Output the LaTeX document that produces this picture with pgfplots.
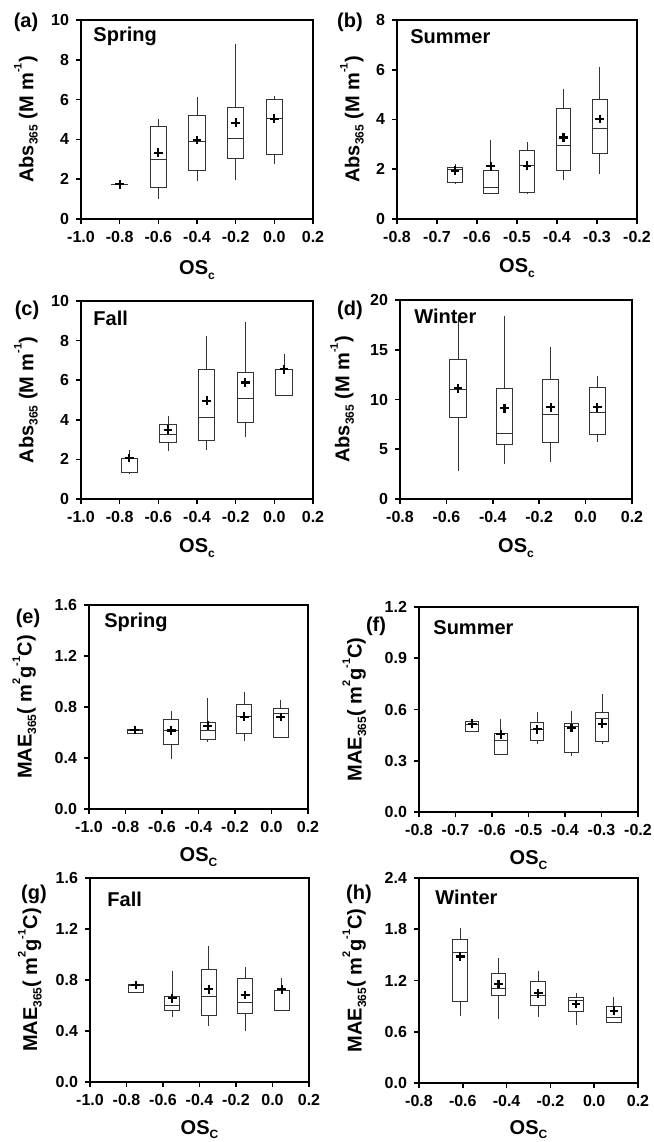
\documentclass[border=0pt]{standalone}
\usepackage{fontspec}
\setmainfont{Liberation Sans}[UprightFont={* Bold}, BoldFont={* Bold}]
\usepackage{pgfplots}
\pgfplotsset{compat=1.18}
\usepgfplotslibrary{statistics}
\newcommand\sups[1]{\raisebox{0.58em}{\fontsize{5.5}{6}\selectfont #1}}
\newcommand\subs[1]{\raisebox{-0.22em}{\fontsize{6}{6}\selectfont #1}}
\pgfplotsset{
  panel/.style={
    scale only axis, clip=false, enlargelimits=false, anchor=south west,
    axis line style={line width=1pt},
    every tick/.style={line width=0.8pt, black},
    major tick length=2.5pt,
    tick align=outside,
    xtick pos=lower, ytick pos=lower,
    ticklabel style={font=\fontsize{8}{9}\selectfont},
    label style={font=\fontsize{8}{10}\selectfont},
    every axis x label/.style={anchor=base},
    every axis y label/.style={rotate=90, anchor=base},
    boxplot/draw direction=y,
  },
  bp/.style={draw=black!80, line width=0.5pt, solid, mark=none},
  mn/.style={only marks, mark=+, mark size=2.2pt, mark options={line width=1.1pt, black, solid}, draw=black},
}
\tikzset{
  season/.style={anchor=west, inner sep=0pt, font=\fontsize{10}{12}\selectfont},
  plab/.style={font=\fontsize{10}{12}\selectfont, inner sep=0pt},
}
\begin{document}
\begin{tikzpicture}
\useasboundingbox (0,0) rectangle (327pt,571pt);
\node[plab] at (13pt,560pt) {(a)};
\node[plab] at (175pt,560pt) {(b)};
\node[plab] at (13.5pt,416pt) {(c)};
\node[plab] at (175pt,416pt) {(d)};
\node[plab] at (14pt,262pt) {(e)};
\node[plab] at (188pt,258pt) {(f)};
\node[plab] at (17pt,124pt) {(g)};
\node[plab] at (179.5pt,124pt) {(h)};

% (a)
\begin{axis}[panel, at={(40.5pt,461.5pt)}, width=116pt, height=99.5pt,
  xmin=-1, xmax=0.2, ymin=0, ymax=10,
  xtick={-1,-0.8,-0.6,-0.4,-0.2,0,0.2}, xticklabels={-1.0,-0.8,-0.6,-0.4,-0.2,0.0,0.2},
  ytick={0,2,4,6,8,10}, yticklabels={0,2,4,6,8,10},
  xlabel={OS\subs{c}}, ylabel={Abs\subs{365} (M m\sups{-1})},
  xlabel style={at={(axis description cs:0.5,0)}, yshift=-28pt},
  ylabel style={at={(axis description cs:-0.2055,0.5)}}]
\node[season] at (rel axis cs:0.052,0.92) {Spring};
\addplot[bp, boxplot prepared={draw position=-0.8, lower whisker=1.72, lower quartile=1.72, median=1.72, upper quartile=1.73, upper whisker=1.73, box extend=0.083, whisker extend=0}] coordinates {};
\addplot[bp, boxplot prepared={draw position=-0.6, lower whisker=1.0, lower quartile=1.59, median=3.0, upper quartile=4.64, upper whisker=5.03, box extend=0.083, whisker extend=0}] coordinates {};
\addplot[bp, boxplot prepared={draw position=-0.4, lower whisker=1.93, lower quartile=2.43, median=3.89, upper quartile=5.19, upper whisker=6.15, box extend=0.083, whisker extend=0}] coordinates {};
\addplot[bp, boxplot prepared={draw position=-0.2, lower whisker=1.96, lower quartile=3.02, median=4.05, upper quartile=5.59, upper whisker=8.79, box extend=0.083, whisker extend=0}] coordinates {};
\addplot[bp, boxplot prepared={draw position=0.0, lower whisker=2.76, lower quartile=3.25, median=5.03, upper quartile=5.98, upper whisker=6.18, box extend=0.083, whisker extend=0}] coordinates {};
\addplot[mn] coordinates {(-0.8,1.74) (-0.6,3.33) (-0.4,3.97) (-0.2,4.84) (0,5.03)};
\end{axis}

% (b)
\begin{axis}[panel, at={(198.5pt,461.5pt)}, width=120pt, height=99.5pt,
  xmin=-0.8, xmax=-0.2, ymin=0, ymax=8,
  xtick={-0.8,-0.7,-0.6,-0.5,-0.4,-0.3,-0.2}, xticklabels={-0.8,-0.7,-0.6,-0.5,-0.4,-0.3,-0.2},
  ytick={0,2,4,6,8}, yticklabels={0,2,4,6,8},
  xlabel={OS\subs{c}}, ylabel={Abs\subs{365} (M m\sups{-1})},
  xlabel style={at={(axis description cs:0.5,0)}, yshift=-27pt},
  ylabel style={at={(axis description cs:-0.157,0.5)}}]
\node[season] at (rel axis cs:0.054,0.915) {Summer};
\addplot[bp, boxplot prepared={draw position=-0.655, lower whisker=1.40, lower quartile=1.45, median=1.98, upper quartile=2.06, upper whisker=2.21, box extend=0.037, whisker extend=0}] coordinates {};
\addplot[bp, boxplot prepared={draw position=-0.566, lower whisker=1.0, lower quartile=1.03, median=1.26, upper quartile=1.94, upper whisker=3.18, box extend=0.037, whisker extend=0}] coordinates {};
\addplot[bp, boxplot prepared={draw position=-0.475, lower whisker=0.99, lower quartile=1.07, median=2.14, upper quartile=2.75, upper whisker=3.08, box extend=0.037, whisker extend=0}] coordinates {};
\addplot[bp, boxplot prepared={draw position=-0.384, lower whisker=1.57, lower quartile=1.94, median=2.94, upper quartile=4.45, upper whisker=5.21, box extend=0.037, whisker extend=0}] coordinates {};
\addplot[bp, boxplot prepared={draw position=-0.293, lower whisker=1.80, lower quartile=2.64, median=3.62, upper quartile=4.79, upper whisker=6.13, box extend=0.037, whisker extend=0}] coordinates {};
\addplot[mn] coordinates {(-0.655,1.94) (-0.566,2.12) (-0.475,2.14) (-0.384,3.28) (-0.293,4.02)};
\end{axis}

% (c)
\begin{axis}[panel, at={(40.5pt,321.5pt)}, width=116pt, height=99pt,
  xmin=-1, xmax=0.2, ymin=0, ymax=10,
  xtick={-1,-0.8,-0.6,-0.4,-0.2,0,0.2}, xticklabels={-1.0,-0.8,-0.6,-0.4,-0.2,0.0,0.2},
  ytick={0,2,4,6,8,10}, yticklabels={0,2,4,6,8,10},
  xlabel={OS\subs{c}}, ylabel={Abs\subs{365} (M m\sups{-1})},
  xlabel style={at={(axis description cs:0.5,0)}, yshift=-27pt},
  ylabel style={at={(axis description cs:-0.2055,0.5)}}]
\node[season] at (rel axis cs:0.052,0.914) {Fall};
\addplot[bp, boxplot prepared={draw position=-0.75, lower whisker=1.32, lower quartile=1.33, median=1.34, upper quartile=2.05, upper whisker=2.47, box extend=0.083, whisker extend=0}] coordinates {};
\addplot[bp, boxplot prepared={draw position=-0.55, lower whisker=2.40, lower quartile=2.87, median=3.28, upper quartile=3.76, upper whisker=4.17, box extend=0.083, whisker extend=0}] coordinates {};
\addplot[bp, boxplot prepared={draw position=-0.35, lower whisker=2.47, lower quartile=2.94, median=4.12, upper quartile=6.52, upper whisker=8.25, box extend=0.083, whisker extend=0}] coordinates {};
\addplot[bp, boxplot prepared={draw position=-0.15, lower whisker=3.13, lower quartile=3.87, median=5.06, upper quartile=6.39, upper whisker=8.92, box extend=0.083, whisker extend=0}] coordinates {};
\addplot[bp, boxplot prepared={draw position=0.05, lower whisker=5.23, lower quartile=5.23, median=6.55, upper quartile=6.56, upper whisker=7.31, box extend=0.083, whisker extend=0}] coordinates {};
\addplot[mn] coordinates {(-0.75,2.07) (-0.55,3.5) (-0.35,4.96) (-0.15,5.88) (0.05,6.55)};
\end{axis}

% (d)
\begin{axis}[panel, at={(200pt,321.5pt)}, width=116pt, height=99.5pt,
  xmin=-0.8, xmax=0.2, ymin=0, ymax=20,
  xtick={-0.8,-0.6,-0.4,-0.2,0,0.2}, xticklabels={-0.8,-0.6,-0.4,-0.2,0.0,0.2},
  ytick={0,5,10,15,20}, yticklabels={0,5,10,15,20},
  xlabel={OS\subs{c}}, ylabel={Abs\subs{365} (M m\sups{-1})},
  xlabel style={at={(axis description cs:0.5,0)}, yshift=-27pt},
  ylabel style={at={(axis description cs:-0.218,0.5)}}]
\addplot[bp, boxplot prepared={draw position=-0.55, lower whisker=2.78, lower quartile=8.23, median=11.04, upper quartile=13.98, upper whisker=18.1, box extend=0.07, whisker extend=0}] coordinates {};
\addplot[bp, boxplot prepared={draw position=-0.35, lower whisker=3.55, lower quartile=5.52, median=6.62, upper quartile=11.07, upper whisker=18.43, box extend=0.07, whisker extend=0}] coordinates {};
\addplot[bp, boxplot prepared={draw position=-0.15, lower whisker=3.71, lower quartile=5.69, median=8.53, upper quartile=11.97, upper whisker=15.32, box extend=0.07, whisker extend=0}] coordinates {};
\addplot[bp, boxplot prepared={draw position=0.05, lower whisker=5.72, lower quartile=6.52, median=8.70, upper quartile=11.24, upper whisker=12.37, box extend=0.07, whisker extend=0}] coordinates {};
\addplot[mn] coordinates {(-0.55,11.14) (-0.35,9.13) (-0.15,9.23) (0.05,9.23)};
\node[season] at (rel axis cs:0.06,0.92) {Winter};
\end{axis}

% (e)
\begin{axis}[panel, at={(44.5pt,166.5pt)}, width=109.5pt, height=102pt,
  xmin=-1, xmax=0.2, ymin=0, ymax=1.6,
  xtick={-1,-0.8,-0.6,-0.4,-0.2,0,0.2}, xticklabels={-1.0,-0.8,-0.6,-0.4,-0.2,0.0,0.2},
  ytick={0,0.4,0.8,1.2,1.6}, yticklabels={0.0,0.4,0.8,1.2,1.6},
  xlabel={OS\subs{C}}, ylabel={MAE\subs{365}( m\sups{2}g\sups{-1}C)},
  xlabel style={at={(axis description cs:0.5,0)}, yshift=-26.5pt},
  ylabel style={at={(axis description cs:-0.262,0.5)}}]
\node[season] at (rel axis cs:0.068,0.917) {Spring};
\addplot[bp, boxplot prepared={draw position=-0.75, lower whisker=0.595, lower quartile=0.595, median=0.615, upper quartile=0.625, upper whisker=0.64, box extend=0.082, whisker extend=0}] coordinates {};
\addplot[bp, boxplot prepared={draw position=-0.55, lower whisker=0.392, lower quartile=0.507, median=0.616, upper quartile=0.705, upper whisker=0.765, box extend=0.082, whisker extend=0}] coordinates {};
\addplot[bp, boxplot prepared={draw position=-0.35, lower whisker=0.522, lower quartile=0.548, median=0.616, upper quartile=0.681, upper whisker=0.869, box extend=0.082, whisker extend=0}] coordinates {};
\addplot[bp, boxplot prepared={draw position=-0.15, lower whisker=0.530, lower quartile=0.595, median=0.726, upper quartile=0.817, upper whisker=0.914, box extend=0.082, whisker extend=0}] coordinates {};
\addplot[bp, boxplot prepared={draw position=0.05, lower whisker=0.564, lower quartile=0.564, median=0.752, upper quartile=0.791, upper whisker=0.851, box extend=0.082, whisker extend=0}] coordinates {};
\addplot[mn] coordinates {(-0.75,0.62) (-0.55,0.616) (-0.35,0.653) (-0.15,0.723) (0.05,0.721)};
\end{axis}

% (f)
\begin{axis}[panel, at={(209.5pt,165pt)}, width=109.5pt, height=102.5pt,
  xmin=-0.8, xmax=-0.2, ymin=0, ymax=1.2,
  xtick={-0.8,-0.7,-0.6,-0.5,-0.4,-0.3,-0.2}, xticklabels={-0.8,-0.7,-0.6,-0.5,-0.4,-0.3,-0.2},
  ytick={0,0.3,0.6,0.9,1.2}, yticklabels={0.0,0.3,0.6,0.9,1.2},
  xlabel={OS\subs{C}}, ylabel={MAE\subs{365}( m\sups{2}g\sups{-1}C)},
  xlabel style={at={(axis description cs:0.5,0)}, yshift=-26.5pt},
  ylabel style={at={(axis description cs:-0.262,0.5)}}]
\node[season] at (rel axis cs:0.064,0.90) {Summer};
\addplot[bp, boxplot prepared={draw position=-0.654, lower whisker=0.474, lower quartile=0.474, median=0.51, upper quartile=0.527, upper whisker=0.537, box extend=0.036, whisker extend=0}] coordinates {};
\addplot[bp, boxplot prepared={draw position=-0.576, lower whisker=0.338, lower quartile=0.338, median=0.416, upper quartile=0.462, upper whisker=0.546, box extend=0.036, whisker extend=0}] coordinates {};
\addplot[bp, boxplot prepared={draw position=-0.476, lower whisker=0.40, lower quartile=0.42, median=0.482, upper quartile=0.523, upper whisker=0.585, box extend=0.036, whisker extend=0}] coordinates {};
\addplot[bp, boxplot prepared={draw position=-0.382, lower whisker=0.326, lower quartile=0.347, median=0.503, upper quartile=0.517, upper whisker=0.589, box extend=0.036, whisker extend=0}] coordinates {};
\addplot[bp, boxplot prepared={draw position=-0.298, lower whisker=0.40, lower quartile=0.414, median=0.546, upper quartile=0.585, upper whisker=0.693, box extend=0.036, whisker extend=0}] coordinates {};
\addplot[mn] coordinates {(-0.654,0.517) (-0.576,0.455) (-0.476,0.484) (-0.382,0.492) (-0.298,0.517)};
\end{axis}

% (g)
\begin{axis}[panel, at={(45pt,30pt)}, width=109.5pt, height=102pt,
  xmin=-1, xmax=0.2, ymin=0, ymax=1.6,
  xtick={-1,-0.8,-0.6,-0.4,-0.2,0,0.2}, xticklabels={-1.0,-0.8,-0.6,-0.4,-0.2,0.0,0.2},
  ytick={0,0.4,0.8,1.2,1.6}, yticklabels={0.0,0.4,0.8,1.2,1.6},
  xlabel={OS\subs{C}}, ylabel={MAE\subs{365}( m\sups{2}g\sups{-1}C)},
  xlabel style={at={(axis description cs:0.5,0)}, yshift=-26pt},
  ylabel style={at={(axis description cs:-0.241,0.5)}}]
\node[season] at (rel axis cs:0.078,0.897) {Fall};
\addplot[bp, boxplot prepared={draw position=-0.75, lower whisker=0.70, lower quartile=0.70, median=0.755, upper quartile=0.761, upper whisker=0.78, box extend=0.082, whisker extend=0}] coordinates {};
\addplot[bp, boxplot prepared={draw position=-0.55, lower whisker=0.511, lower quartile=0.559, median=0.598, upper quartile=0.674, upper whisker=0.871, box extend=0.082, whisker extend=0}] coordinates {};
\addplot[bp, boxplot prepared={draw position=-0.35, lower whisker=0.438, lower quartile=0.525, median=0.674, upper quartile=0.884, upper whisker=1.067, box extend=0.082, whisker extend=0}] coordinates {};
\addplot[bp, boxplot prepared={draw position=-0.15, lower whisker=0.401, lower quartile=0.538, median=0.624, upper quartile=0.813, upper whisker=0.905, box extend=0.082, whisker extend=0}] coordinates {};
\addplot[bp, boxplot prepared={draw position=0.05, lower whisker=0.564, lower quartile=0.564, median=0.72, upper quartile=0.721, upper whisker=0.813, box extend=0.082, whisker extend=0}] coordinates {};
\addplot[mn] coordinates {(-0.75,0.761) (-0.55,0.656) (-0.35,0.727) (-0.15,0.682) (0.05,0.727)};
\end{axis}

% (h)
\begin{axis}[panel, at={(209.5pt,29.5pt)}, width=109.5pt, height=102.5pt,
  xmin=-0.8, xmax=0.2, ymin=0, ymax=2.4,
  xtick={-0.8,-0.6,-0.4,-0.2,0,0.2}, xticklabels={-0.8,-0.6,-0.4,-0.2,0.0,0.2},
  ytick={0,0.6,1.2,1.8,2.4}, yticklabels={0.0,0.6,1.2,1.8,2.4},
  xlabel={OS\subs{C}}, ylabel={MAE\subs{365}( m\sups{2}g\sups{-1}C)},
  xlabel style={at={(axis description cs:0.5,0)}, yshift=-25.5pt},
  ylabel style={at={(axis description cs:-0.262,0.5)}}]
\node[season] at (rel axis cs:0.073,0.907) {Winter};
\addplot[bp, boxplot prepared={draw position=-0.611, lower whisker=0.783, lower quartile=0.959, median=1.531, upper quartile=1.676, upper whisker=1.813, box extend=0.068, whisker extend=0}] coordinates {};
\addplot[bp, boxplot prepared={draw position=-0.437, lower whisker=0.744, lower quartile=1.022, median=1.108, upper quartile=1.284, upper whisker=1.46, box extend=0.068, whisker extend=0}] coordinates {};
\addplot[bp, boxplot prepared={draw position=-0.256, lower whisker=0.767, lower quartile=0.904, median=1.03, upper quartile=1.186, upper whisker=1.312, box extend=0.068, whisker extend=0}] coordinates {};
\addplot[bp, boxplot prepared={draw position=-0.083, lower whisker=0.677, lower quartile=0.834, median=0.963, upper quartile=1.002, upper whisker=1.049, box extend=0.068, whisker extend=0}] coordinates {};
\addplot[bp, boxplot prepared={draw position=0.09, lower whisker=0.709, lower quartile=0.709, median=0.767, upper quartile=0.90, upper whisker=1.01, box extend=0.068, whisker extend=0}] coordinates {};
\addplot[mn] coordinates {(-0.611,1.48) (-0.437,1.159) (-0.256,1.049) (-0.083,0.924) (0.09,0.846)};
\end{axis}
\end{tikzpicture}
\end{document}
